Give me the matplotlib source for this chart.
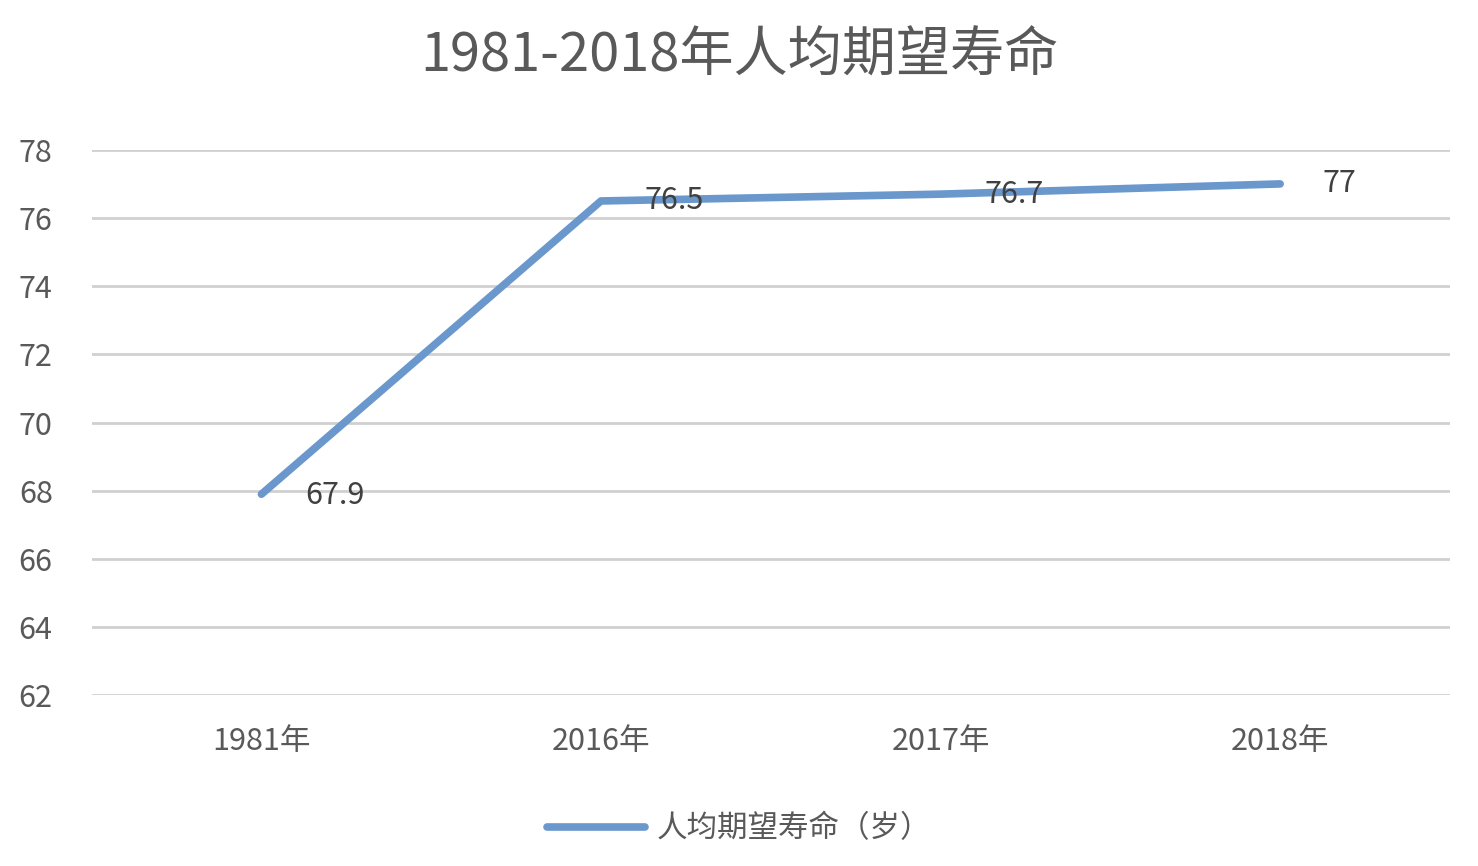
import matplotlib
matplotlib.use("Agg")
import matplotlib.pyplot as plt

plt.rcParams['font.family'] = ['Noto Sans CJK SC', 'DejaVu Sans']

years = ['1981年', '2016年', '2017年', '2018年']
life = [67.9, 76.5, 76.7, 77]
label_offsets = [(53, -1), (53, 0), (53, 0), (43, 0)]

fig = plt.figure(figsize=(14.78, 8.66), dpi=100)
ax = fig.add_axes([0.062, 0.197, 0.919, 0.630])

x = range(len(years))
ax.plot(x, life, color='#6a97cc', lw=5.5, solid_capstyle='round',
        label='人均期望寿命（岁）')
for i, v in enumerate(life):
    ax.annotate('%g' % v, (i, v), xytext=label_offsets[i], textcoords='offset points',
                fontsize=22, color='#404040', ha='center', va='center')

ax.set_xlim(-0.5, 3.5)
ax.set_ylim(62, 78)
ax.set_yticks(range(62, 80, 2))
ax.set_xticks(list(x))
ax.set_xticklabels(years)
ax.grid(axis='y', color='#d0d0d0', lw=2)
ax.set_axisbelow(True)
for s in ax.spines.values():
    s.set_visible(False)
ax.tick_params(length=0, labelsize=22, colors='#595959', pad=22)
ax.tick_params(axis='y', pad=28)

fig.text(0.5, 0.935, '1981-2018年人均期望寿命', ha='center', va='center',
         fontsize=39, color='#595959')
fig.legend(loc='center', bbox_to_anchor=(0.5, 0.043), frameon=False,
           fontsize=22, labelcolor='#595959', handlelength=3.2, handletextpad=0.4)

fig.savefig('out.png', dpi=100)
